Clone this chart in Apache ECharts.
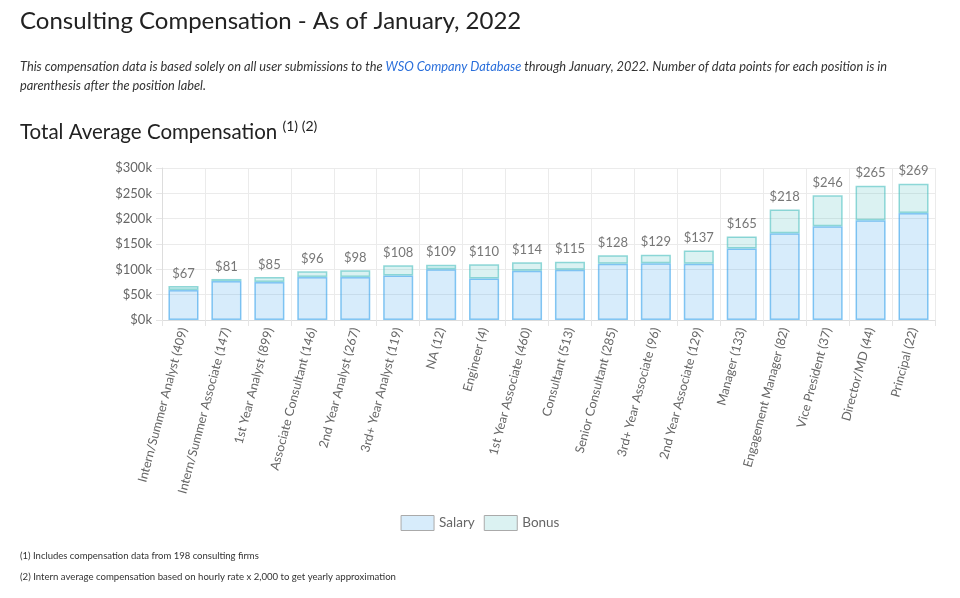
<!DOCTYPE html>
<html><head><meta charset="utf-8">
<script src="https://cdn.jsdelivr.net/npm/echarts@6/dist/echarts.min.js"></script>
<style>html,body{margin:0;padding:0;background:#fff}#c{width:960px;height:598px}</style>
</head><body><div id="c"></div>
<script>
const categories = ["Intern/Summer Analyst (409)","Intern/Summer Associate (147)","1st Year Analyst (899)","Associate Consultant (146)","2nd Year Analyst (267)","3rd+ Year Analyst (119)","NA (12)","Engineer (4)","1st Year Associate (460)","Consultant (513)","Senior Consultant (285)","3rd+ Year Associate (96)","2nd Year Associate (129)","Manager (133)","Engagement Manager (82)","Vice President (37)","Director/MD (44)","Principal (22)"];
const totals = [67,81,85,96,98,108,109,110,114,115,128,129,137,165,218,246,265,269];
const salary = [59,77,75,85,85,88,100,82,97,99,111,112,111,141,171,185,197,211];
const bonus = totals.map((t,i)=>t-salary[i]);
const yTicks = [0,50,100,150,200,250,300];

const chart = echarts.init(document.getElementById('c'));
const FONT = 'Lato';
chart.setOption({
  animation:false,
  textStyle:{fontFamily:FONT},
  grid:{left:162,right:25,top:168,bottom:278,containLabel:false},
  legend:{
    top:510,left:'center',itemWidth:33,itemHeight:15,itemGap:9,
    textStyle:{color:'#666',fontSize:13.5,fontFamily:FONT},
    data:[
      {name:'Salary',icon:'rect',itemStyle:{color:'rgba(54,162,235,0.2)',borderColor:'#aaa',borderWidth:1}},
      {name:'Bonus',icon:'rect',itemStyle:{color:'rgba(75,192,192,0.2)',borderColor:'#aaa',borderWidth:1}}
    ]
  },
  xAxis:{
    type:'category',data:categories,
    axisLine:{lineStyle:{color:'#ddd'}},
    axisTick:{show:true,length:6,lineStyle:{color:'#e5e5e5'}},
    splitLine:{show:true,lineStyle:{color:'#ebebeb'}},
    axisLabel:{rotate:75,interval:0,color:'#666',fontSize:12.5,fontFamily:FONT,margin:8}
  },
  yAxis:{
    type:'value',min:yTicks[0],max:yTicks[yTicks.length-1],interval:50,
    axisLine:{show:true,lineStyle:{color:'#ddd'}},
    axisTick:{show:true,length:6,lineStyle:{color:'#e5e5e5'}},
    splitLine:{lineStyle:{color:'#ebebeb'}},
    axisLabel:{formatter:v=>'$'+v+'k',color:'#666',fontSize:13,fontFamily:FONT,margin:10}
  },
  series:[
    {name:'Salary',type:'bar',stack:'a',data:salary,barCategoryGap:'30%',
     itemStyle:{color:'rgba(54,162,235,0.2)',borderColor:'rgba(54,162,235,0.6)',borderWidth:1.5}},
    {name:'Bonus',type:'bar',stack:'a',data:bonus,
     itemStyle:{color:'rgba(75,192,192,0.2)',borderColor:'rgba(75,192,192,0.6)',borderWidth:1.5},
     label:{show:true,position:'top',distance:6,color:'#777',fontSize:13,fontFamily:FONT,
       formatter:p=>'$'+totals[p.dataIndex]}}
  ],
  graphic:[
    {type:'text',left:20,top:9,style:{text:'Consulting Compensation - As of January, 2022',font:'24px Lato',fill:'#222'}},
    {type:'text',left:20,top:57,style:{
      text:'{a|This compensation data is based solely on all user submissions to the }{l|WSO Company Database}{a| through January, 2022. Number of data points for each position is in}\n{a|parenthesis after the position label.}',
      lineHeight:19,
      rich:{a:{font:'italic 12.8px Lato',fill:'#333',lineHeight:19},l:{font:'italic 12.8px Lato',fill:'#2a6fdb',lineHeight:19}}
    }},
    {type:'text',left:20,top:119,style:{
      text:'{t|Total Average Compensation }{s|(1) (2)}',
      rich:{t:{font:'20.5px Lato',fill:'#222',verticalAlign:'bottom'},s:{font:'14px Lato',fill:'#222',verticalAlign:'top',padding:[0,0,10,0]}}
    }},
    {type:'text',left:20,top:551,style:{text:'(1) Includes compensation data from 198 consulting firms',font:'9.5px Lato',fill:'#333'}},
    {type:'text',left:20,top:572,style:{text:'(2) Intern average compensation based on hourly rate x 2,000 to get yearly approximation',font:'9.6px Lato',fill:'#333'}}
  ]
});
</script></body></html>
